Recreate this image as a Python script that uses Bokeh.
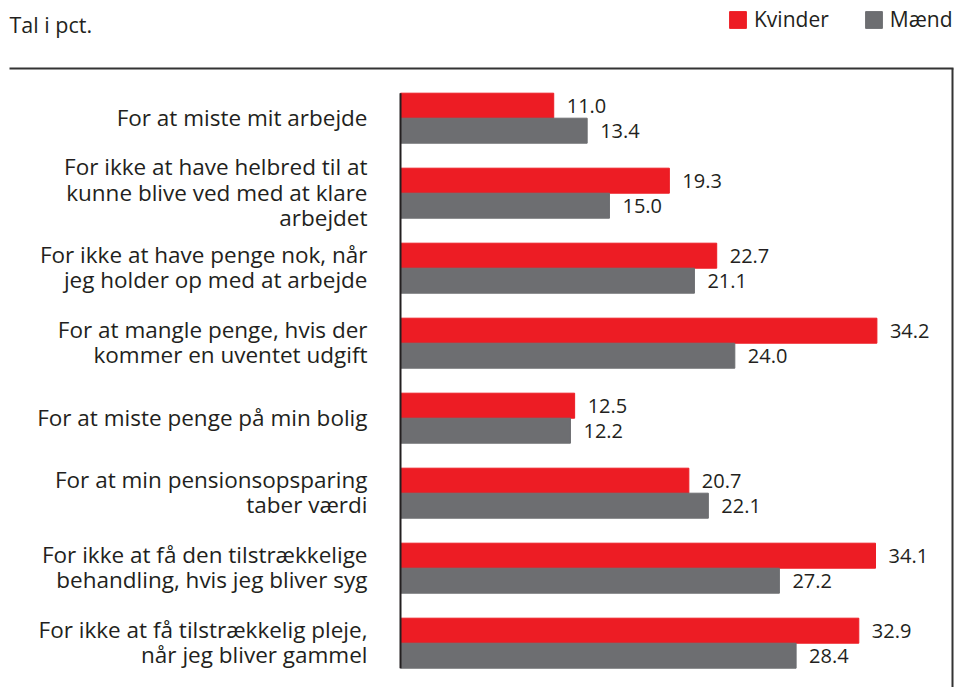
from bokeh.plotting import figure
from bokeh.models import ColumnDataSource, Legend, LegendItem, Label, Range1d
from bokeh.core.properties import value
from bokeh.embed import file_html
from bokeh.resources import INLINE

categories = [
    "For at miste mit arbejde",
    "For ikke at have helbred til at\nkunne blive ved med at klare\narbejdet",
    "For ikke at have penge nok, når\njeg holder op med at arbejde",
    "For at mangle penge, hvis der\nkommer en uventet udgift",
    "For at miste penge på min bolig",
    "For at min pensionsopsparing\ntaber værdi",
    "For ikke at få den tilstrækkelige\nbehandling, hvis jeg bliver syg",
    "For ikke at få tilstrækkelig pleje,\nnår jeg bliver gammel",
]
kvinder = [11.0, 19.3, 22.7, 34.2, 12.5, 20.7, 34.1, 32.9]
maend = [13.4, 15.0, 21.1, 24.0, 12.2, 22.1, 27.2, 28.4]
series_names = ["Kvinder", "Mænd"]
title_text = "Tal i pct."

RED = "#ED1C24"
GRAY = "#6D6E71"
TXT = "#231F20"
FONT = "Open Sans"

W, H = 954, 687
KX = 13.93      # px per percent
KY = 75.0       # px per category
x_start = -400 / KX
x_end = x_start + W / KX
n = len(categories)
y_end = n + 117.7 / KY
y_start = y_end - H / KY


def dx(px):
    return x_start + px / KX


def dy(py):
    return y_end - py / KY


pos = [n - i for i in range(n)]
bh = 1 / 3

src_k = ColumnDataSource(dict(y=[p + bh / 2 for p in pos], v=kvinder,
                              t=[f"{v:.1f}" for v in kvinder]))
src_m = ColumnDataSource(dict(y=[p - bh / 2 for p in pos], v=maend,
                              t=[f"{v:.1f}" for v in maend]))
src_c = ColumnDataSource(dict(y=pos, c=categories))

p = figure(width=W, height=H, output_backend="svg", toolbar_location=None,
           x_range=Range1d(x_start, x_end), y_range=Range1d(y_start, y_end),
           min_border=0, outline_line_color=None)
p.axis.visible = False
p.grid.visible = False
p.background_fill_color = "white"
p.border_fill_color = "white"

rk = p.hbar(y="y", right="v", left=0, height=bh, color=RED, source=src_k)
rm = p.hbar(y="y", right="v", left=0, height=bh, color=GRAY, source=src_m)

for s in (src_k, src_m):
    p.text(x="v", y="y", text="t", source=s, x_offset=13,
           text_align="left", text_baseline="middle",
           text_font=value(FONT), text_font_size="20px", text_color=TXT)

p.text(x=0, y="y", text="c", source=src_c, x_offset=-33, y_offset=-1,
       text_align="right", text_baseline="middle", text_line_height=0.817,
       text_font=value(FONT), text_font_size="22.5px", text_color=TXT)

# value axis baseline
p.segment(x0=0, y0=pos[-1] - bh, x1=0, y1=pos[0] + bh,
          line_color=TXT, line_width=2)

# frame lines (top + right)
p.segment(x0=dx(9), y0=dy(68), x1=dx(953), y1=dy(68), line_color="#333333", line_width=2)
p.segment(x0=dx(952), y0=dy(68), x1=dx(952), y1=y_start, line_color="#333333", line_width=2)

p.add_layout(Label(x=dx(9), y=dy(24), text=title_text, text_baseline="middle",
                   text_font=FONT, text_font_size="21.5px", text_color=TXT))

legend = Legend(items=[LegendItem(label=series_names[0], renderers=[rk]),
                       LegendItem(label=series_names[1], renderers=[rm])],
                orientation="horizontal", location=(727, H - 33),
                glyph_width=21, glyph_height=21, label_text_font=FONT,
                label_text_font_size="21px", label_text_color=TXT,
                spacing=34, padding=0, margin=0, label_standoff=6,
                border_line_color=None, background_fill_alpha=0)
p.add_layout(legend)

open("out.html", "w").write(file_html(p, INLINE))
